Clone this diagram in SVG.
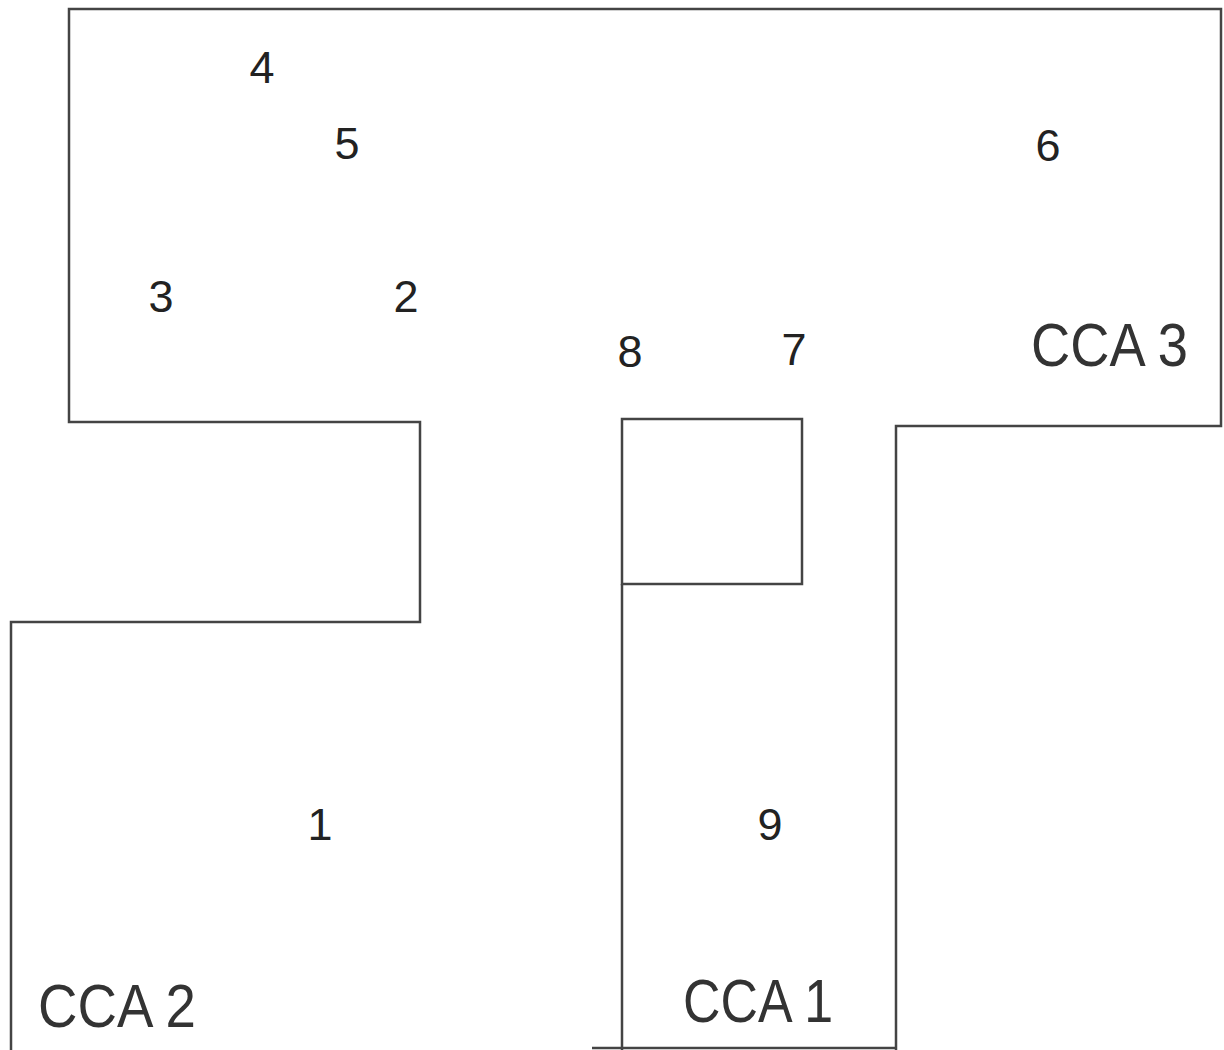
<svg xmlns="http://www.w3.org/2000/svg" width="1224" height="1050" viewBox="0 0 1224 1050">
<style>
.w{fill:none;stroke:#444;stroke-width:2.5;stroke-linejoin:miter}
.n{font-family:"Liberation Sans",Arial,sans-serif;font-size:45px;fill:#222;text-anchor:middle}
.c{font-family:"Liberation Sans",Arial,sans-serif;font-size:62px;fill:#333}
</style>
<rect width="1224" height="1050" fill="#fff"/>
<g id="walls">
<polyline class="w" points="11,1050 11,622 420,622 420,422 69,422 69,9 1221,9 1221,426 896,426 896,1050"/>
<rect class="w" x="622" y="419" width="180" height="165"/>
<line class="w" x1="622" y1="584" x2="622" y2="1050"/>
<line class="w" x1="592" y1="1048" x2="896" y2="1048" stroke="#777"/>
</g>
<g id="labels">
<text class="n" x="262" y="83">4</text>
<text class="n" x="347" y="159">5</text>
<text class="n" x="1048" y="161">6</text>
<text class="n" x="161" y="312">3</text>
<text class="n" x="406" y="312">2</text>
<text class="n" x="630" y="367">8</text>
<text class="n" x="794" y="365">7</text>
<text class="n" x="770" y="840">9</text>
<text class="n" x="320" y="840">1</text>
<text class="c" x="1031" y="366" textLength="157" lengthAdjust="spacingAndGlyphs">CCA 3</text>
<text class="c" x="38" y="1027" textLength="158" lengthAdjust="spacingAndGlyphs">CCA 2</text>
<text class="c" x="683" y="1022" textLength="150" lengthAdjust="spacingAndGlyphs">CCA 1</text>
</g>
</svg>
